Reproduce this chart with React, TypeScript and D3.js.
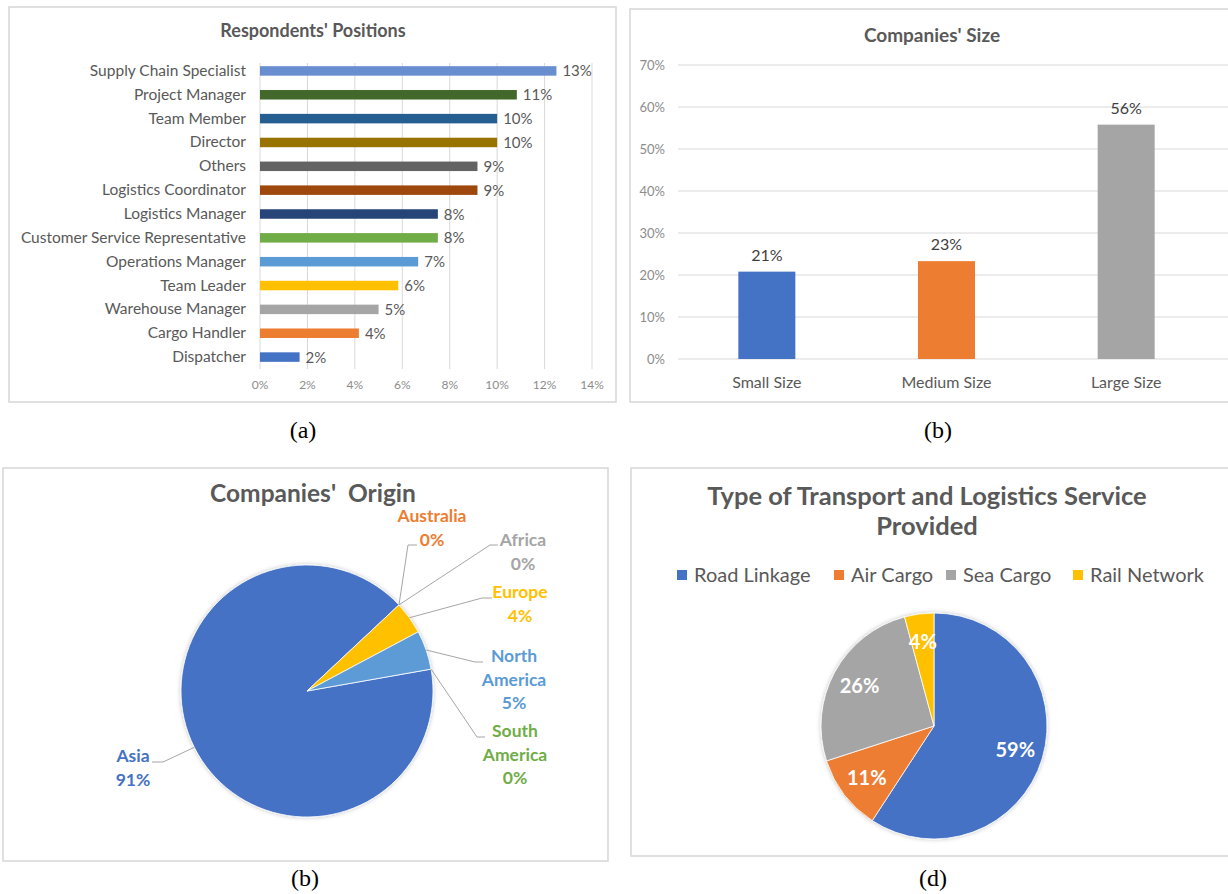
import React from "react";
import * as d3 from "d3";

// ---------- DATA ----------
const positionCategories = [
  "Supply Chain Specialist",
  "Project Manager",
  "Team Member",
  "Director",
  "Others",
  "Logistics Coordinator",
  "Logistics Manager",
  "Customer Service Representative",
  "Operations Manager",
  "Team Leader",
  "Warehouse Manager",
  "Cargo Handler",
  "Dispatcher",
];
const positionValues = [12.5, 10.83, 10, 10, 9.17, 9.17, 7.5, 7.5, 6.67, 5.83, 5, 4.17, 1.67];
const positionColors = [
  "#698ED0", "#43682B", "#255E91", "#997300", "#636363", "#9E480E", "#264478",
  "#70AD47", "#5B9BD5", "#FFC000", "#A5A5A5", "#ED7D31", "#4472C4",
];
const positionTicks = [0, 2, 4, 6, 8, 10, 12, 14];

const sizeCategories = ["Small Size", "Medium Size", "Large Size"];
const sizeValues = [20.8, 23.3, 55.8];
const sizeColors = ["#4472C4", "#ED7D31", "#A5A5A5"];
const sizeTicks = [0, 10, 20, 30, 40, 50, 60, 70];

const originCategories = ["Asia", "Australia", "Africa", "Europe", "North America", "South America"];
const originValues = [90.8, 0, 0, 4.2, 5.0, 0];
const originColors = ["#4472C4", "#ED7D31", "#A5A5A5", "#FFC000", "#5B9BD5", "#70AD47"];
const originLabelLines = [
  ["Asia", "91%"],
  ["Australia", "0%"],
  ["Africa", "0%"],
  ["Europe", "4%"],
  ["North", "America", "5%"],
  ["South", "America", "0%"],
];

const serviceCategories = ["Road Linkage", "Air Cargo", "Sea Cargo", "Rail Network"];
const serviceValues = [59.2, 10.8, 25.8, 4.2];
const serviceColors = ["#4472C4", "#ED7D31", "#A5A5A5", "#FFC000"];

// ---------- LAYOUT (not data) ----------
const FONT = "Lato, 'Open Sans', 'Liberation Sans', sans-serif";
const TXT = "#595959";
const GRID = "#D9D9D9";
// label anchor (center x, first baseline y) and leader-line elbow/end for chart (c)
const originLabelLayout = [
  { x: 133, y: 762, ex: 163, ey: 762, lx: 152 },
  { x: 432, y: 522, ex: 408, ey: 545, lx: 417 },
  { x: 523, y: 546, ex: 490, ey: 545, lx: 498 },
  { x: 520, y: 598, ex: 482, ey: 598, lx: 492 },
  { x: 514, y: 662, ex: 475, ey: 662, lx: 483 },
  { x: 515, y: 737, ex: 477, ey: 737, lx: 485 },
];
const legendX = [677, 834, 946, 1073];

function Frame({ x, y, w, h }: { x: number; y: number; w: number; h: number }) {
  return <rect x={x} y={y} width={w} height={h} fill="#fff" stroke={GRID} strokeWidth={1.6} />;
}

function PanelA() {
  const x = d3.scaleLinear().domain([0, 14]).range([260, 592]);
  const y = d3.scaleBand<string>().domain(positionCategories).range([59, 369]);
  const bh = 9.5;
  return (
    <g>
      <Frame x={9} y={7} w={607} h={395} />
      <text x={313} y={37} textAnchor="middle" fontFamily={FONT} fontWeight="bold" fontSize={18} fill={TXT}>
        Respondents' Positions
      </text>
      {positionTicks.map((t) => (
        <g key={t}>
          <line x1={x(t)} x2={x(t)} y1={63} y2={369} stroke={GRID} strokeWidth={1} />
          <text x={x(t)} y={389} textAnchor="middle" fontFamily={FONT} fontSize={12} fill="#8C8C8C">
            {t}%
          </text>
        </g>
      ))}
      {positionCategories.map((c, i) => {
        const cy = (y(c) as number) + y.bandwidth() / 2;
        return (
          <g key={c}>
            <text x={246} y={cy + 5} textAnchor="end" fontFamily={FONT} fontSize={15.5} fill={TXT}>
              {c}
            </text>
            <rect x={x(0)} y={cy - bh / 2} width={x(positionValues[i]) - x(0)} height={bh} fill={positionColors[i]} />
            <text x={x(positionValues[i]) + 6} y={cy + 5.5} fontFamily={FONT} fontSize={15} fill={TXT}>
              {Math.round(positionValues[i])}%
            </text>
          </g>
        );
      })}
    </g>
  );
}

function PanelB() {
  const y = d3.scaleLinear().domain([0, 70]).range([359, 65]);
  const x = d3.scaleBand<string>().domain(sizeCategories).range([677, 1216]);
  const bw = 57;
  return (
    <g>
      <Frame x={630} y={9} w={610} h={393} />
      <text x={932} y={42} textAnchor="middle" fontFamily={FONT} fontWeight="bold" fontSize={19} fill={TXT}>
        Companies' Size
      </text>
      {sizeTicks.map((t) => (
        <g key={t}>
          <line x1={678} x2={1228} y1={y(t)} y2={y(t)} stroke={GRID} strokeWidth={1} />
          <text x={665} y={y(t) + 4.5} textAnchor="end" fontFamily={FONT} fontSize={13} fill="#8C8C8C">
            {t}%
          </text>
        </g>
      ))}
      {sizeCategories.map((c, i) => {
        const cx = (x(c) as number) + x.bandwidth() / 2;
        return (
          <g key={c}>
            <rect x={cx - bw / 2} y={y(sizeValues[i])} width={bw} height={y(0) - y(sizeValues[i])} fill={sizeColors[i]} />
            <text x={cx} y={y(sizeValues[i]) - 11} textAnchor="middle" fontFamily={FONT} fontSize={16} fill="#404040">
              {Math.round(sizeValues[i])}%
            </text>
            <text x={cx} y={388} textAnchor="middle" fontFamily={FONT} fontSize={16} fill={TXT}>
              {c}
            </text>
          </g>
        );
      })}
    </g>
  );
}

function PanelC() {
  const cx = 307, cy = 691, r = 126;
  const pie = d3
    .pie<number>()
    .sort(null)
    .value((d) => d)
    .startAngle((80 * Math.PI) / 180)
    .endAngle((80 * Math.PI) / 180 + 2 * Math.PI);
  const arcs = pie(originValues);
  const arc = d3.arc<d3.PieArcDatum<number>>().innerRadius(0).outerRadius(r);
  const edge = d3.arc<d3.PieArcDatum<number>>().innerRadius(r).outerRadius(r);
  return (
    <g>
      <Frame x={3} y={468} w={605} h={393} />
      <text x={313} y={502} textAnchor="middle" fontFamily={FONT} fontWeight="bold" fontSize={24.5} fill={TXT} style={{ whiteSpace: "pre" }}>
        {"Companies'  Origin"}
      </text>
      <g transform={`translate(${cx},${cy})`} filter="url(#pieShadow)">
        {arcs.map((a, i) =>
          a.value > 0 ? <path key={i} d={arc(a) || ""} fill={originColors[i]} stroke="#fff" strokeWidth={0.8} /> : null
        )}
      </g>
      {arcs.map((a, i) => {
        const [px, py] = edge.centroid(a);
        const L = originLabelLayout[i];
        return (
          <g key={i}>
            <polyline
              points={`${cx + px},${cy + py} ${L.ex},${L.ey} ${L.lx},${L.ey}`}
              fill="none"
              stroke="#A6A6A6"
              strokeWidth={1}
            />
            <text textAnchor="middle" fontFamily={FONT} fontWeight="bold" fontSize={17.5} fill={originColors[i]}>
              {originLabelLines[i].map((s, k) => (
                <tspan key={k} x={L.x} y={L.y + k * 23.5}>
                  {s}
                </tspan>
              ))}
            </text>
          </g>
        );
      })}
    </g>
  );
}

function PanelD() {
  const cx = 934, cy = 726, r = 113;
  const pie = d3.pie<number>().sort(null).value((d) => d);
  const arcs = pie(serviceValues);
  const arc = d3.arc<d3.PieArcDatum<number>>().innerRadius(0).outerRadius(r);
  const lab = d3.arc<d3.PieArcDatum<number>>().innerRadius(r * 0.75).outerRadius(r * 0.75);
  return (
    <g>
      <Frame x={631} y={468} w={610} h={388} />
      <text textAnchor="middle" fontFamily={FONT} fontWeight="bold" fontSize={25.5} fill={TXT}>
        <tspan x={927} y={505}>Type of Transport and Logistics Service</tspan>
        <tspan x={927} y={535}>Provided</tspan>
      </text>
      {serviceCategories.map((c, i) => (
        <g key={c}>
          <rect x={legendX[i]} y={570} width={10} height={10} fill={serviceColors[i]} />
          <text x={legendX[i] + 17} y={582} fontFamily={FONT} fontSize={20} fill={TXT}>
            {c}
          </text>
        </g>
      ))}
      <g transform={`translate(${cx},${cy})`}>
        <g filter="url(#pieShadow)">
          {arcs.map((a, i) => (
            <path key={i} d={arc(a) || ""} fill={serviceColors[i]} stroke="#fff" strokeWidth={0.8} />
          ))}
        </g>
        {arcs.map((a, i) => {
          const [lx, ly] = lab.centroid(a);
          return (
            <text key={i} x={lx} y={ly + 7} textAnchor="middle" fontFamily={FONT} fontWeight="bold" fontSize={20} fill="#fff">
              {Math.round(a.value)}%
            </text>
          );
        })}
      </g>
    </g>
  );
}

export default function App() {
  const cap = { fontFamily: "'Liberation Serif', 'Times New Roman', serif", fontSize: 24, fill: "#000", textAnchor: "middle" as const };
  return (
    <svg width={1228} height={894} style={{ position: "absolute", left: 0, top: 0, background: "#fff" }}>
      <defs>
        <filter id="pieShadow" x="-20%" y="-20%" width="140%" height="140%">
          <feDropShadow dx="0" dy="0" stdDeviation="2" floodColor="#000" floodOpacity="0.25" />
        </filter>
      </defs>
      <rect width={1228} height={894} fill="#fff" />
      <PanelA />
      <PanelB />
      <PanelC />
      <PanelD />
      <text x={303} y={438} {...cap}>(a)</text>
      <text x={938} y={438} {...cap}>(b)</text>
      <text x={305} y={886} {...cap}>(b)</text>
      <text x={933} y={886} {...cap}>(d)</text>
    </svg>
  );
}
